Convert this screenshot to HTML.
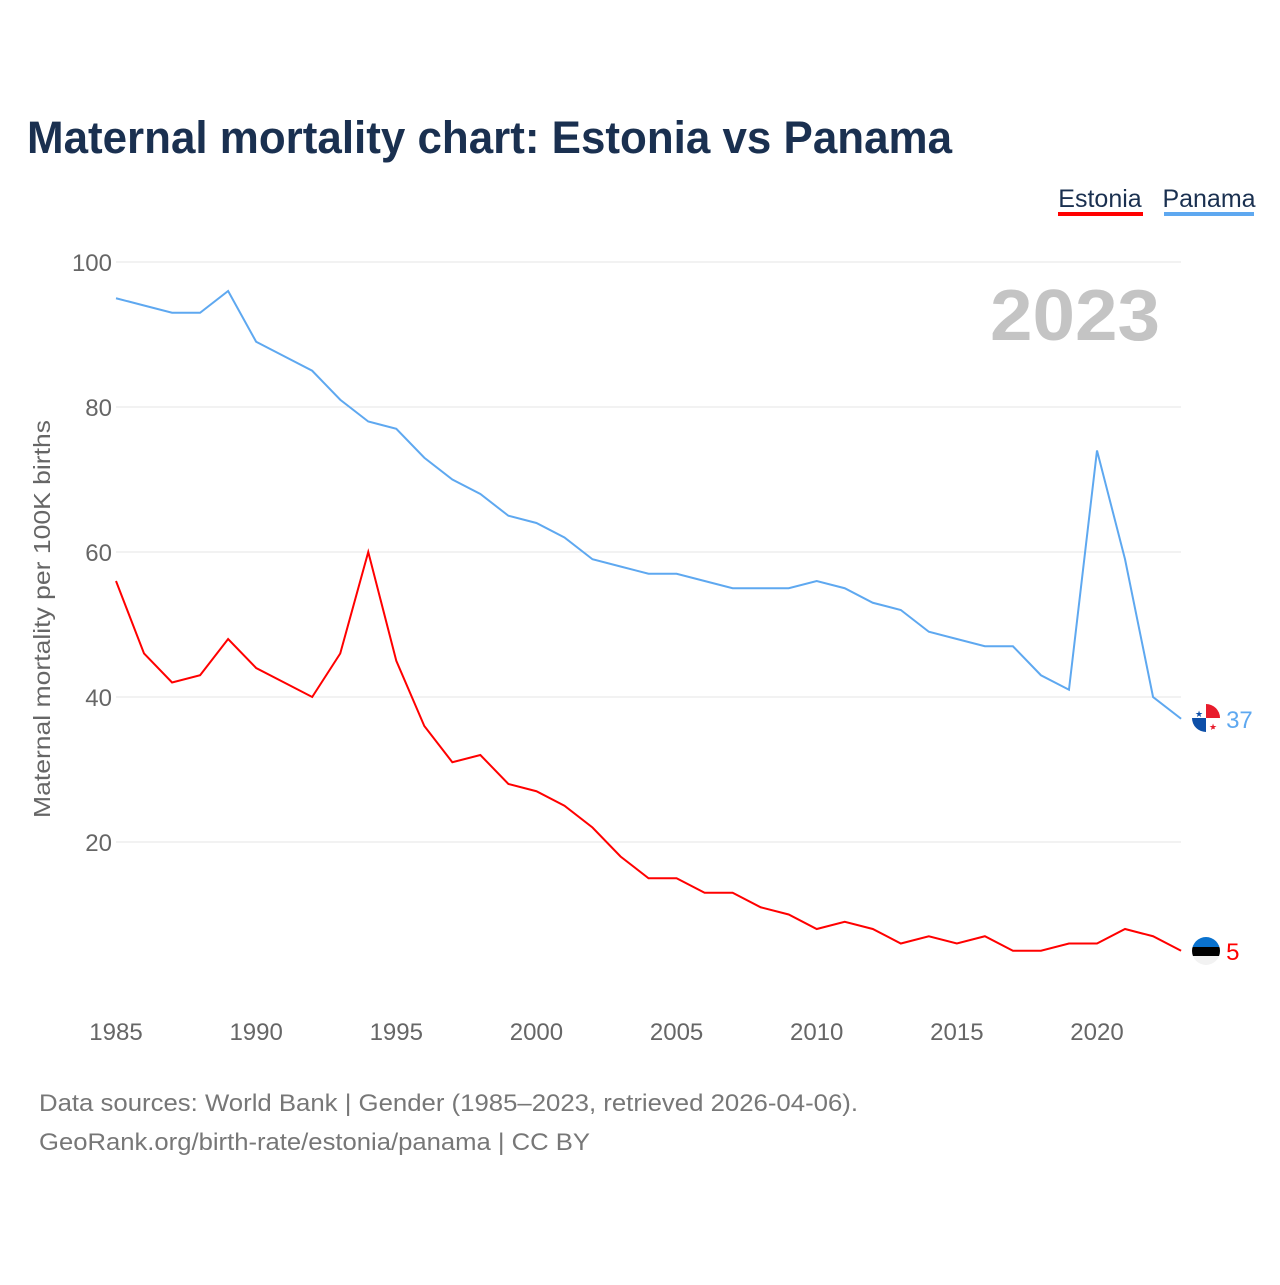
<!DOCTYPE html>
<html><head><meta charset="utf-8"><style>
body{margin:0;background:#fff;width:1280px;height:1280px;overflow:hidden;font-family:"Liberation Sans",sans-serif}
</style></head><body>
<svg width="1280" height="1280" id="chart" xmlns="http://www.w3.org/2000/svg">
<defs>
<clipPath id="cp1"><circle cx="1206" cy="718" r="14"/></clipPath>
<clipPath id="cp2"><circle cx="1206" cy="951" r="14"/></clipPath>
</defs>
<text x="27" y="153" font-size="45" font-weight="bold" fill="#1a3050" textLength="925" lengthAdjust="spacingAndGlyphs">Maternal mortality chart: Estonia vs Panama</text>
<g>
<text x="1100" y="207" font-size="25" fill="#1a3050" text-anchor="middle">Estonia</text>
<rect x="1058" y="212" width="85" height="4" fill="#ff0000"/>
<text x="1209" y="207" font-size="25" fill="#1a3050" text-anchor="middle">Panama</text>
<rect x="1164" y="212" width="90" height="4" fill="#5ea8f0"/>
</g>
<text x="1075" y="340" font-size="72" font-weight="bold" fill="#c4c4c4" text-anchor="middle" textLength="170" lengthAdjust="spacingAndGlyphs">2023</text>
<g id="grid"></g>
<g id="series"></g>
<g clip-path="url(#cp1)">
<rect x="1192" y="704" width="28" height="28" fill="#fff"/>
<rect x="1206" y="704" width="14" height="14" fill="#e81c2c"/>
<rect x="1192" y="718" width="14" height="14" fill="#0d4fa8"/>
<text x="1199" y="717" font-size="9" fill="#0d4fa8" text-anchor="middle">★</text>
<text x="1213" y="730" font-size="9" fill="#e81c2c" text-anchor="middle">★</text>
</g>
<g clip-path="url(#cp2)">
<rect x="1192" y="937" width="28" height="10" fill="#0a72ce"/>
<rect x="1192" y="947" width="28" height="9" fill="#000"/>
<rect x="1192" y="956" width="28" height="10" fill="#f2f2f2"/>
</g>
<text transform="translate(50,619) rotate(-90)" font-size="23" fill="#666" text-anchor="middle" textLength="398" lengthAdjust="spacingAndGlyphs">Maternal mortality per 100K births</text>
<text x="39" y="1111" font-size="24" fill="#777" textLength="819" lengthAdjust="spacingAndGlyphs">Data sources: World Bank | Gender (1985–2023, retrieved 2026-04-06).</text>
<text x="39" y="1150" font-size="24" fill="#777" textLength="551" lengthAdjust="spacingAndGlyphs">GeoRank.org/birth-rate/estonia/panama | CC BY</text>
</svg>
<script>
const years=[];for(let y=1985;y<=2023;y++)years.push(y);
const panama=[95,94,93,93,96,89,87,85,81,78,77,73,70,68,65,64,62,59,58,57,57,56,55,55,55,56,55,53,52,49,48,47,47,43,41,74,59,40,37];
const estonia=[56,46,42,43,48,44,42,40,46,60,45,36,31,32,28,27,25,22,18,15,15,13,13,11,10,8,9,8,6,7,6,7,5,5,6,6,8,7,5];
const yTicks=[20,40,60,80,100];
const xTicks=[1985,1990,1995,2000,2005,2010,2015,2020];
const NS="http://www.w3.org/2000/svg";
const xs=y=>116+(y-1985)*(1097-116)/35;
const ys=v=>987-v*7.25;
const grid=document.getElementById('grid'),ser=document.getElementById('series');
function mk(tag,attrs,parent,text){const e=document.createElementNS(NS,tag);for(const k in attrs)e.setAttribute(k,attrs[k]);if(text!=null)e.textContent=text;parent.appendChild(e);return e;}
yTicks.forEach(v=>{
 const l=mk('line',{x1:116,x2:1181,y1:ys(v),y2:ys(v),stroke:'#e6e6e6','stroke-width':1},grid);
 
 
 const t=mk('text',{x:112,y:ys(v)+9,'font-size':24,fill:'#666','text-anchor':'end'},grid,v);
 
 
});
xTicks.forEach(v=>{
 const t=mk('text',{x:xs(v),y:1040,'font-size':24,fill:'#666','text-anchor':'middle'},grid,v);
 
 
});
function line(data,color,name){
 const p=mk('polyline',{points:data.map((v,i)=>xs(years[i])+','+ys(v)).join(' '),fill:'none',stroke:color,'stroke-width':2},ser);
 
 
 const last=data[data.length-1],lx=xs(years[years.length-1]);
 const t=mk('text',{x:lx+45,y:ys(last)+9,'font-size':24,fill:color},ser,last);
 
 
}
line(panama,'#5ea8f0','panama');
line(estonia,'#ff0000','estonia');
</script>
</body></html>
